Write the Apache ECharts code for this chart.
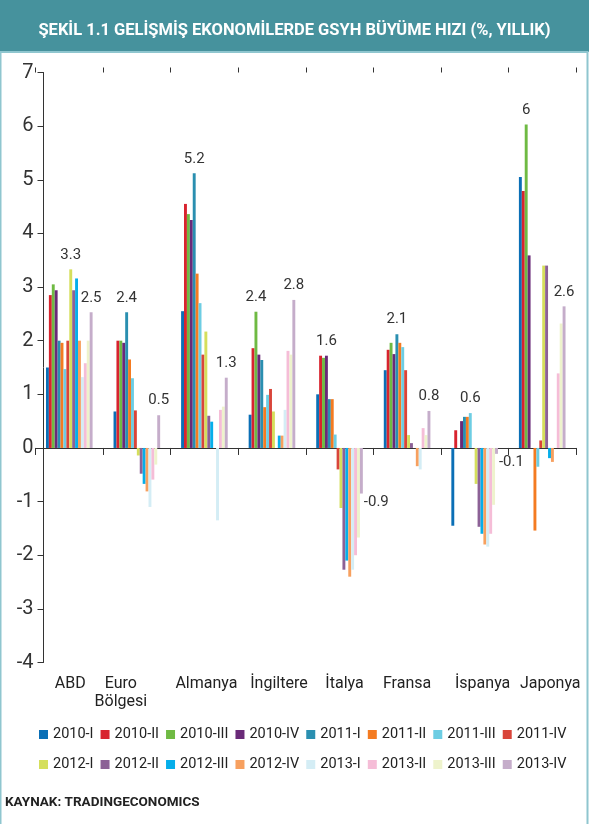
<!DOCTYPE html>
<html>
<head>
<meta charset="utf-8">
<script src="https://cdn.jsdelivr.net/npm/echarts@6/dist/echarts.min.js"></script>
<style>
html,body{margin:0;padding:0;background:#fff;}
#chart{width:589px;height:824px;}
</style>
</head>
<body>
<div id="chart"></div>
<script>
// ---- DATA ----
const categories = ['ABD', 'Euro\nBölgesi', 'Almanya', 'İngiltere', 'İtalya', 'Fransa', 'İspanya', 'Japonya'];
const seriesNames = ['2010-I', '2010-II', '2010-III', '2010-IV', '2011-I', '2011-II', '2011-III', '2011-IV',
                     '2012-I', '2012-II', '2012-III', '2012-IV', '2013-I', '2013-II', '2013-III', '2013-IV'];
//                 ABD   Euro   Alm    İng   İta    Fra    İsp    Jap
const q2010_1  = [1.5,  0.68,  2.55,  0.62, 1.0,   1.45, -1.45,  5.05];
const q2010_2  = [2.85, 2.0,   4.55,  1.86, 1.72,  1.83,  0.33,  4.79];
const q2010_3  = [3.05, 2.0,   4.36,  2.54, 1.68,  1.96,  0.0,   6.03];
const q2010_4  = [2.94, 1.96,  4.25,  1.74, 1.72,  1.75,  0.5,   3.59];
const q2011_1  = [2.0,  2.53,  5.12,  1.64, 0.91,  2.12,  0.58,  0.0];
const q2011_2  = [1.96, 1.65,  3.25,  0.76, 0.91,  1.96,  0.58, -1.54];
const q2011_3  = [1.47, 1.3,   2.7,   0.99, 0.25,  1.88,  0.65, -0.35];
const q2011_4  = [2.0,  0.7,   1.74,  1.1, -0.4,   1.45,  0.0,   0.14];
const q2012_1  = [3.33, -0.14, 2.17,  0.68, -1.12, 0.24, -0.67,  3.4];
const q2012_2  = [2.94, -0.48, 0.6,   0.0, -2.27,  0.09, -1.47,  3.4];
const q2012_3  = [3.16, -0.67, 0.49,  0.23, -2.1,  0.0,  -1.6,  -0.19];
const q2012_4  = [2.0,  -0.81, 0.0,   0.23, -2.4, -0.34, -1.8,  -0.26];
const q2013_1  = [1.32, -1.1, -1.35,  0.71, -2.27, -0.4, -1.84,  0.0];
const q2013_2  = [1.58, -0.59, 0.71,  1.81, -2.0,  0.37, -1.6,   1.39];
const q2013_3  = [2.0,  -0.31, 0.77,  1.74, -1.67, 0.24, -1.06,  2.32];
const q2013_4  = [2.53, 0.61,  1.31,  2.76, -0.85, 0.69, -0.11,  2.64];
const seriesValues = [q2010_1, q2010_2, q2010_3, q2010_4, q2011_1, q2011_2, q2011_3, q2011_4,
                      q2012_1, q2012_2, q2012_3, q2012_4, q2013_1, q2013_2, q2013_3, q2013_4];

// value labels printed on the chart
const labelCategory = [0, 0, 1, 1, 2, 2, 3, 3, 4, 4, 5, 5, 6, 6, 7, 7];
const labelSeries   = [8, 15, 4, 15, 4, 15, 2, 15, 3, 15, 4, 15, 6, 15, 2, 15];
const labelTexts    = ['3.3', '2.5', '2.4', '0.5', '5.2', '1.3', '2.4', '2.8', '1.6', '-0.9', '2.1', '0.8', '0.6', '-0.1', '6', '2.6'];

const yTicks = [-4, -3, -2, -1, 0, 1, 2, 3, 4, 5, 6, 7];

// ---- STYLE ----
const FONT = "Roboto, sans-serif";
const colors = ['#0a6fb6', '#d8232e', '#6fba43', '#6a2a78', '#2a8fb0', '#f47b21', '#6dcde3', '#d9453a',
                '#d5df5c', '#8c6196', '#05aeea', '#f7a05f', '#d4edf5', '#f5bdd7', '#eef3cc', '#c5adca'];
const catPad = [[0,0,0,2],[0,32,0,0],[0,0,0,4],[0,0,0,14],[0,0,0,10],[0,0,0,0],[0,0,0,16],[0,0,0,16]];

const chart = echarts.init(document.getElementById('chart'), null, {renderer: 'canvas'});

function labelFor(si, ci, v) {
  for (let k = 0; k < labelTexts.length; k++) {
    if (labelSeries[k] === si && labelCategory[k] === ci) {
      const base = {show: true, formatter: labelTexts[k], fontSize: 15, color: '#333', fontFamily: FONT};
      if (v < 0) {
        return Object.assign(base, {position: ['100%', '100%'], align: 'left', verticalAlign: 'top', offset: [1, 1]});
      }
      return Object.assign(base, {position: 'top', distance: 7});
    }
  }
  return null;
}

const barSeries = seriesNames.map((name, si) => ({
  type: 'bar',
  name: name,
  xAxisIndex: 0,
  barGap: 0,
  barCategoryGap: '31%',
  itemStyle: {color: colors[si]},
  emphasis: {disabled: true},
  data: seriesValues[si].map((v, ci) => {
    const lab = labelFor(si, ci, v);
    return lab ? {value: v, label: lab} : v;
  })
}));

barSeries.push({type: 'line', xAxisIndex: 1, data: [], silent: true});

const legendBase = {icon: 'rect', itemWidth: 9, itemHeight: 9, itemGap: 7, left: 34,
  textStyle: {fontSize: 14.5, color: '#222', fontFamily: FONT}, selectedMode: false};

const option = {
  animation: false,
  backgroundColor: '#fff',
  title: {
    text: 'ŞEKİL 1.1 GELİŞMİŞ EKONOMİLERDE GSYH BÜYÜME HIZI (%, YILLIK)',
    left: 'center',
    top: 15,
    textStyle: {color: '#fff', fontSize: 16.5, fontWeight: 'bold', fontFamily: FONT, lineHeight: 22}
  },
  graphic: [
    {type: 'rect', z: -10, shape: {x: 0, y: 0, width: 589, height: 52}, style: {fill: '#46929d'}},
    {type: 'rect', z: -10, shape: {x: 0.5, y: 52, width: 587, height: 780}, style: {fill: 'none', stroke: '#8fc6cf', lineWidth: 2}},
    {type: 'text', left: 5, top: 796, style: {text: 'KAYNAK: TRADINGECONOMICS', fill: '#222', font: "bold 13.5px " + FONT}}
  ],
  legend: [
    Object.assign({data: seriesNames.slice(0, 8), top: 722}, legendBase),
    Object.assign({data: seriesNames.slice(8), top: 752}, legendBase)
  ],
  grid: {left: 35.5, right: 13, top: 72.5, bottom: 161.5, containLabel: false, outerBoundsMode: 'none'},
  xAxis: [
    {
      type: 'category',
      data: categories.map((c, i) => ({value: c, textStyle: {padding: catPad[i]}})),
      position: 'bottom',
      axisLine: {onZero: true, lineStyle: {color: '#333', width: 1}},
      axisTick: {show: true, length: 7, lineStyle: {color: '#333'}},
      axisLabel: {margin: 12, fontSize: 16, color: '#222', lineHeight: 18.5, fontFamily: FONT, interval: 0},
      splitLine: {show: false}
    },
    {
      type: 'category',
      data: categories,
      position: 'top',
      axisLine: {show: false, onZero: true},
      axisTick: {show: true, length: 5, lineStyle: {color: '#333'}},
      axisLabel: {show: false},
      splitLine: {show: false}
    }
  ],
  yAxis: {
    type: 'value',
    min: yTicks[0],
    max: yTicks[yTicks.length - 1],
    interval: 1,
    offset: -8,
    axisLine: {show: true, lineStyle: {color: '#333', width: 1}},
    axisTick: {show: true, length: 6, lineStyle: {color: '#333'}},
    axisLabel: {fontSize: 20, color: '#333', margin: 10, fontFamily: FONT},
    splitLine: {show: false}
  },
  series: barSeries
};
chart.setOption(option);
</script>
</body>
</html>
